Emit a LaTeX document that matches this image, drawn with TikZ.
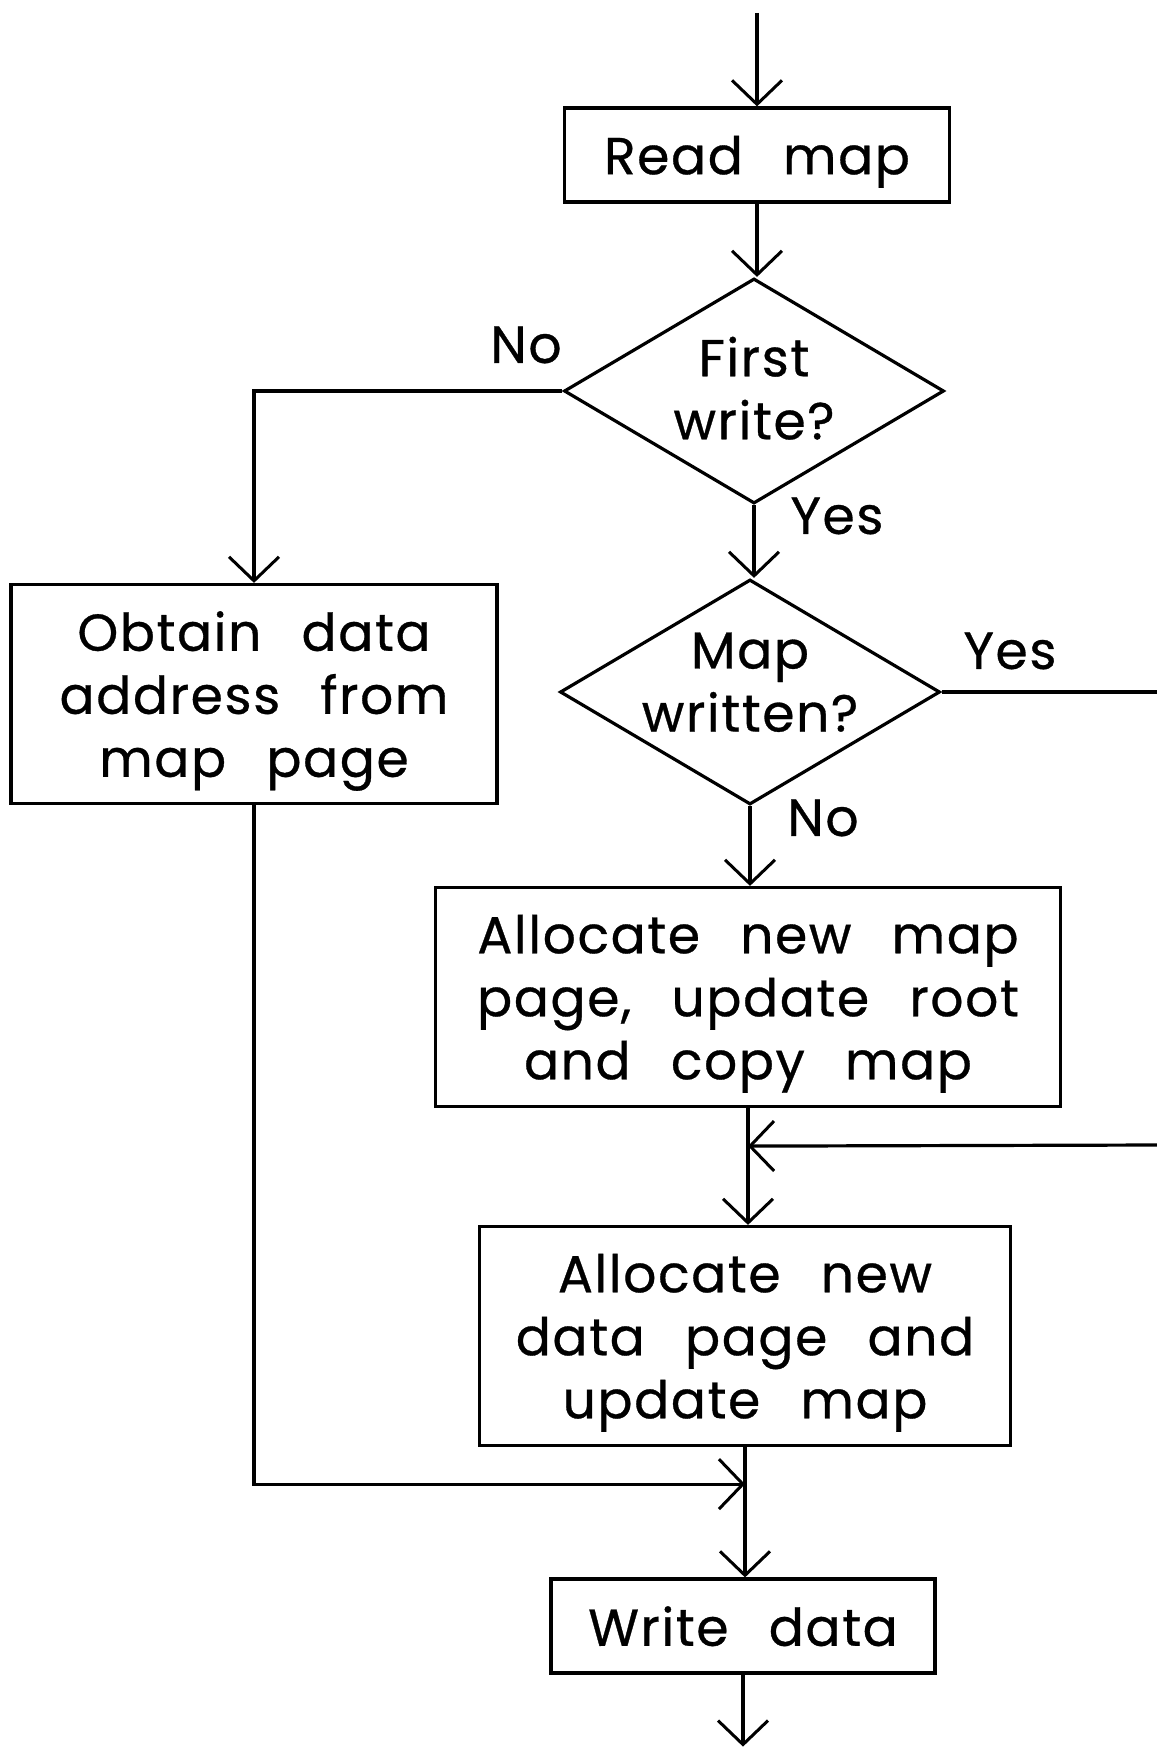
\documentclass[tikz,border=0pt]{standalone}
\usepackage{fontspec}
\setmainfont{Poppins}[WordSpace=2.6,LetterSpace=3,FakeBold=0.6]
\usetikzlibrary{arrows.meta,shapes.geometric,calc}
\begin{document}
\begin{tikzpicture}[x=1pt,y=-1pt,
  line width=3.2pt,
  font=\fontsize{52}{63}\selectfont,
  flow/.style={-{Straight Barb[length=24pt,width=50pt,line width=3pt]}},
  stepbox/.style={draw,rectangle,align=center,inner sep=0pt,text depth=0pt},
  decision/.style={draw,diamond,aspect=1.68,align=center,inner sep=-30pt,
    minimum width=380pt,minimum height=225pt},
  lbl/.style={inner sep=0pt}]
\useasboundingbox (0,0) rectangle (1156,1747);

% process and decision nodes
\node[stepbox,minimum width=385pt,minimum height=94pt] (read) at (757,155) {Read map};
\node[decision,text depth=6pt] (fw) at (754,391) {First\\write?};
\node[stepbox,minimum width=486pt,minimum height=219pt] (obtain) at (254,694)
  {Obtain data\\address from\\map page};
\node[decision,text depth=20pt] (mw) at (750,692) {Map\\written?};
\node[stepbox,minimum width=625pt,minimum height=219pt] (amap) at (748,997)
  {Allocate new map\\page, update root\\and copy map};
\node[stepbox,minimum width=531pt,minimum height=219pt] (adata) at (745,1336)
  {Allocate new\\data page and\\update map};
\node[stepbox,minimum width=384pt,minimum height=94pt] (write) at (743,1626) {Write data};

% branch labels
\node[lbl] (lno1) at (526,345) {No};
\node[lbl] (lyes1) at (837,516) {Yes};
\node[lbl] (lyes2) at (1010,651) {Yes};
\node[lbl] (lno2) at (823,818) {No};

% entry, exit and junction points
\coordinate (start) at (757,13);
\coordinate (finish) at ($(write.south)+(0,72)$);
\coordinate (j1) at ($(amap.south)+(0,38)$);
\coordinate (j2) at ($(adata.south)+(0,37)$);
\coordinate (yesout) at (1158,692);
\coordinate (yesin) at (1158,1145);

% connectors
\draw[flow] (start) -- (read.north);
\draw[flow] (read.south) -- (read.south |- fw.north);
\draw[flow] (fw.west) -| (obtain.north);
\draw[flow] (fw.south) -- (fw.south |- mw.north);
\draw (mw.east) -- (yesout);
\draw[flow] (mw.south) -- (mw.south |- amap.north);
\draw[flow] (yesin) -- (j1);
\draw[flow] (amap.south) -- (amap.south |- adata.north);
\draw[flow] (obtain.south) |- (j2);
\draw[flow] (adata.south) -- (adata.south |- write.north);
\draw[flow] (write.south) -- (finish);
\end{tikzpicture}
\end{document}
